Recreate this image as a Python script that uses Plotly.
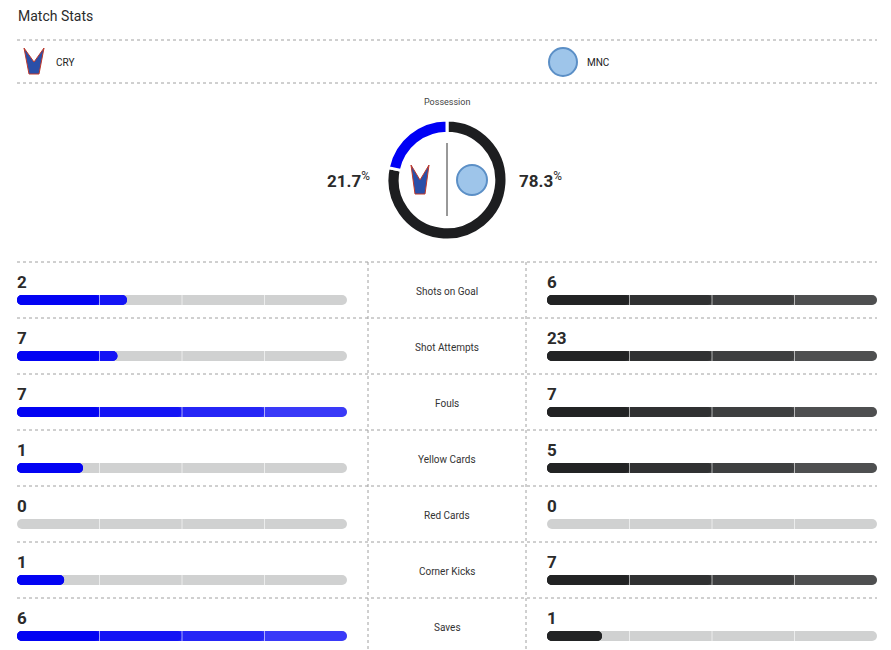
import plotly.graph_objects as go

stats = ["Shots on Goal", "Shot Attempts", "Fouls", "Yellow Cards", "Red Cards", "Corner Kicks", "Saves"]
cry_vals = [2, 7, 7, 1, 0, 1, 6]
mnc_vals = [6, 23, 7, 5, 0, 7, 1]
teams = ["CRY", "MNC"]
possession = [21.7, 78.3]

W, H = 891, 650
OFF = 8  # page body margin
TRACK = 330
LEFT_X, RIGHT_X = 17, 547
ROW0, ROW_H = 262, 56
FONT = "Roboto"

# first quarter -> last quarter
blue_shades = ["#0303f3", "#1414f5", "#2626f6", "#3a3af8"]
dark_shades = ["#222324", "#303132", "#3e3f40", "#4e4f50"]

fig = go.Figure()
shapes, annots = [], []


def dotted_h(y, x0=17, x1=877):
    shapes.append(dict(type="line", x0=x0, x1=x1, y0=y, y1=y, xref="x", yref="y",
                       line=dict(color="#a0a0a0", width=1, dash="dot")))


dotted_h(40)
dotted_h(83)

for i, name in enumerate(stats):
    top = ROW0 + i * ROW_H
    bar_y = top + 38
    dotted_h(top)
    a, b = cry_vals[i], mnc_vals[i]
    mx = max(a, b)
    for x0, val, shades in ((LEFT_X, a, blue_shades), (RIGHT_X, b, dark_shades)):
        frac = val / mx if mx else 0
        fill = TRACK * frac
        fig.add_trace(go.Bar(x=[TRACK], y=[bar_y], base=[x0], orientation="h", width=10,
                             marker=dict(color="#d0d1d1", cornerradius=5, line_width=0),
                             hoverinfo="skip", showlegend=False))
        for k in range(4, 0, -1):
            seg = min(fill, k * TRACK / 4)
            if seg <= 0:
                continue
            fig.add_trace(go.Bar(x=[seg], y=[bar_y], base=[x0], orientation="h", width=10,
                                 marker=dict(color=shades[k - 1], cornerradius=5, line_width=0),
                                 hoverinfo="skip", showlegend=False))
        for k in (1, 2, 3):
            xx = x0 + k * TRACK / 4
            shapes.append(dict(type="line", x0=xx, x1=xx, y0=bar_y - 5, y1=bar_y + 5,
                               xref="x", yref="y", line=dict(color="rgba(255,255,255,0.6)", width=1)))
        annots.append(dict(x=x0 - 2, y=top + 20, text=f"<b>{val}</b>", xanchor="left", yanchor="middle",
                           showarrow=False, font=dict(family=FONT, size=17, color="#2b2b2b"),
                           xref="x", yref="y"))
    annots.append(dict(x=447, y=top + 29, text=name, showarrow=False,
                       font=dict(family=FONT, size=10, color="#333"), xref="x", yref="y"))

for xv in (368, 526):
    shapes.append(dict(type="line", x0=xv, x1=xv, y0=ROW0, y1=H + OFF, xref="x", yref="y",
                       line=dict(color="#a0a0a0", width=1, dash="dot")))

# header
annots.append(dict(x=16, y=16, text="Match Stats", xanchor="left", showarrow=False,
                   font=dict(family=FONT, size=14, color="#2b2b2b"), xref="x", yref="y"))
annots.append(dict(x=54, y=62, text=teams[0], xanchor="left", showarrow=False,
                   font=dict(family=FONT, size=10, color="#222"), xref="x", yref="y"))
annots.append(dict(x=585, y=62, text=teams[1], xanchor="left", showarrow=False,
                   font=dict(family=FONT, size=10, color="#222"), xref="x", yref="y"))
# simple badges
shapes.append(dict(type="circle", x0=549, x1=577, y0=48, y1=76, xref="x", yref="y",
                   line=dict(color="#5b8fc6", width=2), fillcolor="#9ec5ea"))
shapes.append(dict(type="path", path="M 24 48 L 34 62 L 44 48 L 39 74 L 29 74 Z",
                   xref="x", yref="y", fillcolor="#2a4fa8", line=dict(color="#c0392b", width=1)))
shapes.append(dict(type="circle", x0=457, x1=487, y0=165, y1=195, xref="x", yref="y",
                   line=dict(color="#5b8fc6", width=2), fillcolor="#9ec5ea"))
shapes.append(dict(type="path", path="M 411 165 L 420 180 L 429 165 L 425 194 L 415 194 Z",
                   xref="x", yref="y", fillcolor="#2a4fa8", line=dict(color="#c0392b", width=1)))
shapes.append(dict(type="line", x0=447, x1=447, y0=143, y1=216, xref="x", yref="y",
                   line=dict(color="#333", width=1)))

# possession
annots.append(dict(x=447, y=102, text="Possession", showarrow=False,
                   font=dict(family=FONT, size=9, color="#444"), xref="x", yref="y"))
annots.append(dict(x=372, y=180, text=f"<b>{possession[0]}</b><sup>%</sup>", xanchor="right", showarrow=False,
                   font=dict(family=FONT, size=17, color="#2b2b2b"), xref="x", yref="y"))
annots.append(dict(x=517, y=180, text=f"<b>{possession[1]}</b><sup>%</sup>", xanchor="left", showarrow=False,
                   font=dict(family=FONT, size=17, color="#2b2b2b"), xref="x", yref="y"))

fig.add_trace(go.Pie(values=[possession[1], possession[0]], labels=["MNC", "CRY"], hole=0.78,
                     sort=False, direction="clockwise", rotation=0,
                     marker=dict(colors=["#1d1e20", "#0000f5"], line=dict(color="white", width=3)),
                     textinfo="none", hoverinfo="skip", showlegend=False,
                     domain=dict(x=[(387 - OFF) / W, (507 - OFF) / W],
                                 y=[(H + OFF - 240) / H, (H + OFF - 120) / H])))

fig.update_layout(
    width=W, height=H, margin=dict(l=0, r=0, t=0, b=0),
    paper_bgcolor="white", plot_bgcolor="white", barmode="overlay",
    xaxis=dict(range=[OFF, W + OFF], visible=False, fixedrange=True),
    yaxis=dict(range=[H + OFF, OFF], visible=False, fixedrange=True),
    shapes=shapes, annotations=annots,
)

fig.write_html("out.html")
